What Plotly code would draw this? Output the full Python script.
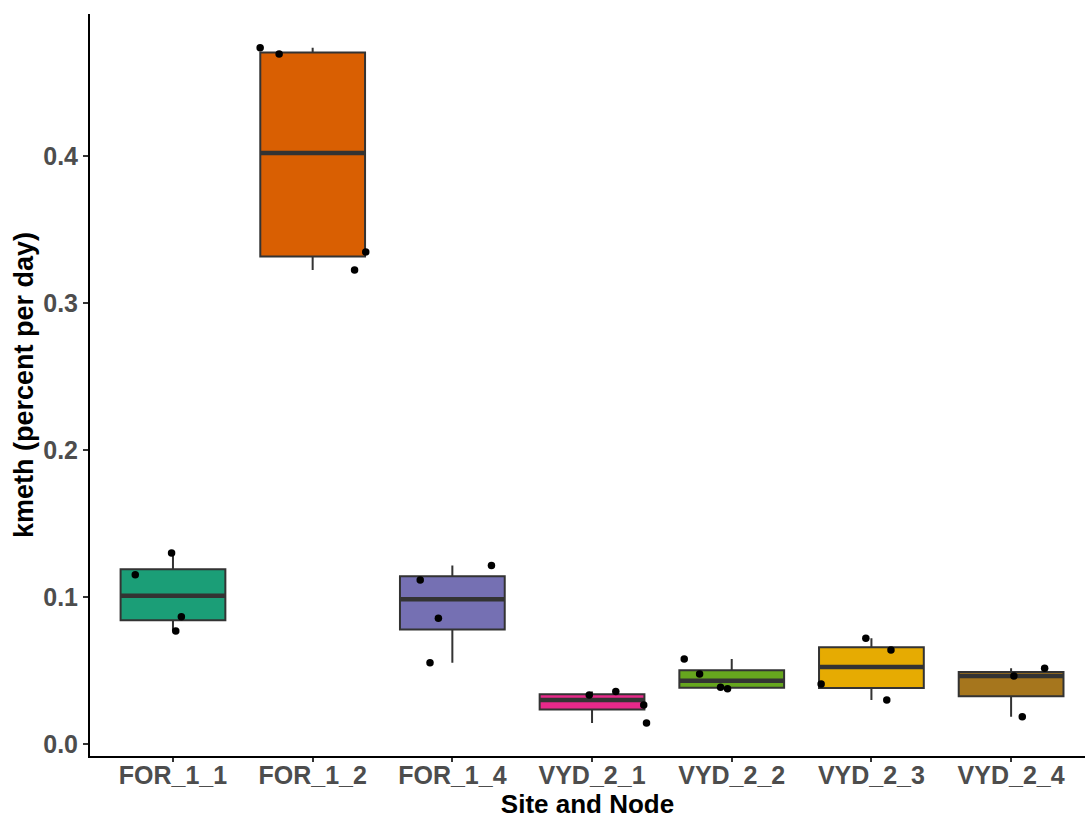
import numpy as np
import plotly.graph_objects as go

categories = ["FOR_1_1", "FOR_1_2", "FOR_1_4", "VYD_2_1", "VYD_2_2", "VYD_2_3", "VYD_2_4"]
colors = ["#1B9E77", "#D95F02", "#7570B3", "#E7298A", "#66A61E", "#E6AB02", "#A6761D"]

kmeth_FOR_1_1 = [0.130, 0.1152, 0.0866, 0.0769]
kmeth_FOR_1_2 = [0.4737, 0.4694, 0.3347, 0.3224]
kmeth_FOR_1_4 = [0.1215, 0.1116, 0.0855, 0.0553]
kmeth_VYD_2_1 = [0.0333, 0.0358, 0.0265, 0.0143]
kmeth_VYD_2_2 = [0.0578, 0.0476, 0.0386, 0.0376]
kmeth_VYD_2_3 = [0.0719, 0.0639, 0.0408, 0.0299]
kmeth_VYD_2_4 = [0.0515, 0.0463, 0.0186]

# horizontal jitter offsets (category units)
jitter_FOR_1_1 = [-0.01, -0.27, 0.06, 0.02]
jitter_FOR_1_2 = [-0.376, -0.24, 0.38, 0.30]
jitter_FOR_1_4 = [0.28, -0.23, -0.10, -0.16]
jitter_VYD_2_1 = [-0.02, 0.17, 0.37, 0.39]
jitter_VYD_2_2 = [-0.34, -0.23, -0.08, -0.03]
jitter_VYD_2_3 = [-0.04, 0.14, -0.36, 0.11]
jitter_VYD_2_4 = [0.24, 0.02, 0.08]

values = [kmeth_FOR_1_1, kmeth_FOR_1_2, kmeth_FOR_1_4, kmeth_VYD_2_1,
          kmeth_VYD_2_2, kmeth_VYD_2_3, kmeth_VYD_2_4]
jitters = [jitter_FOR_1_1, jitter_FOR_1_2, jitter_FOR_1_4, jitter_VYD_2_1,
           jitter_VYD_2_2, jitter_VYD_2_3, jitter_VYD_2_4]

BOX_W = 0.75
fig = go.Figure()

for i, (cat, vals, col) in enumerate(zip(categories, values, colors)):
    v = np.array(vals)
    q1, med, q3 = np.percentile(v, [25, 50, 75])
    iqr = q3 - q1
    lo = v[v >= q1 - 1.5 * iqr].min()
    hi = v[v <= q3 + 1.5 * iqr].max()
    fig.add_trace(go.Box(
        x=[i], q1=[q1], median=[med], q3=[q3], lowerfence=[lo], upperfence=[hi],
        width=BOX_W, whiskerwidth=0, fillcolor=col,
        line=dict(color="#333333", width=2), boxpoints=False,
        showlegend=False, hoverinfo="skip",
    ))
    fig.add_trace(go.Scatter(
        x=[i - BOX_W / 2, i + BOX_W / 2], y=[med, med], mode="lines",
        line=dict(color="#333333", width=4.5), showlegend=False, hoverinfo="skip",
    ))

for i, (vals, jit) in enumerate(zip(values, jitters)):
    fig.add_trace(go.Scatter(
        x=[i + j for j in jit], y=vals, mode="markers",
        marker=dict(color="black", size=7.5), showlegend=False,
    ))

tick_font = dict(family="Liberation Sans, Arial, sans-serif", size=25, color="#4D4D4D", weight="bold")
xtitle_font = dict(family="Liberation Sans, Arial, sans-serif", size=26, color="black", weight="bold")
ytitle_font = dict(family="Liberation Sans, Arial, sans-serif", size=27, color="black", weight="bold")

fig.update_layout(
    width=1085, height=820,
    margin=dict(l=90, r=0, t=14, b=64),
    plot_bgcolor="white", paper_bgcolor="white",
    xaxis=dict(
        range=[-0.594, 6.529], tickmode="array", tickvals=list(range(len(categories))),
        ticktext=categories, showgrid=False, zeroline=False,
        showline=True, linecolor="black", linewidth=2,
        ticks="outside", ticklen=4, tickwidth=1.5, tickcolor="#333333",
        tickfont=tick_font, automargin=False, ticklabelstandoff=-8,
        title=dict(text="Site and Node", font=xtitle_font, standoff=0),
    ),
    yaxis=dict(
        range=[-0.00816, 0.4966], tickvals=[0.0, 0.1, 0.2, 0.3, 0.4], tickformat=".1f",
        showgrid=False, zeroline=False,
        showline=True, linecolor="black", linewidth=2,
        ticks="outside", ticklen=5, tickwidth=1.5, tickcolor="#333333",
        tickfont=tick_font, automargin=False,
        title=dict(text="kmeth (percent per day)", font=ytitle_font, standoff=2),
    ),
)

fig.write_html("out.html")
